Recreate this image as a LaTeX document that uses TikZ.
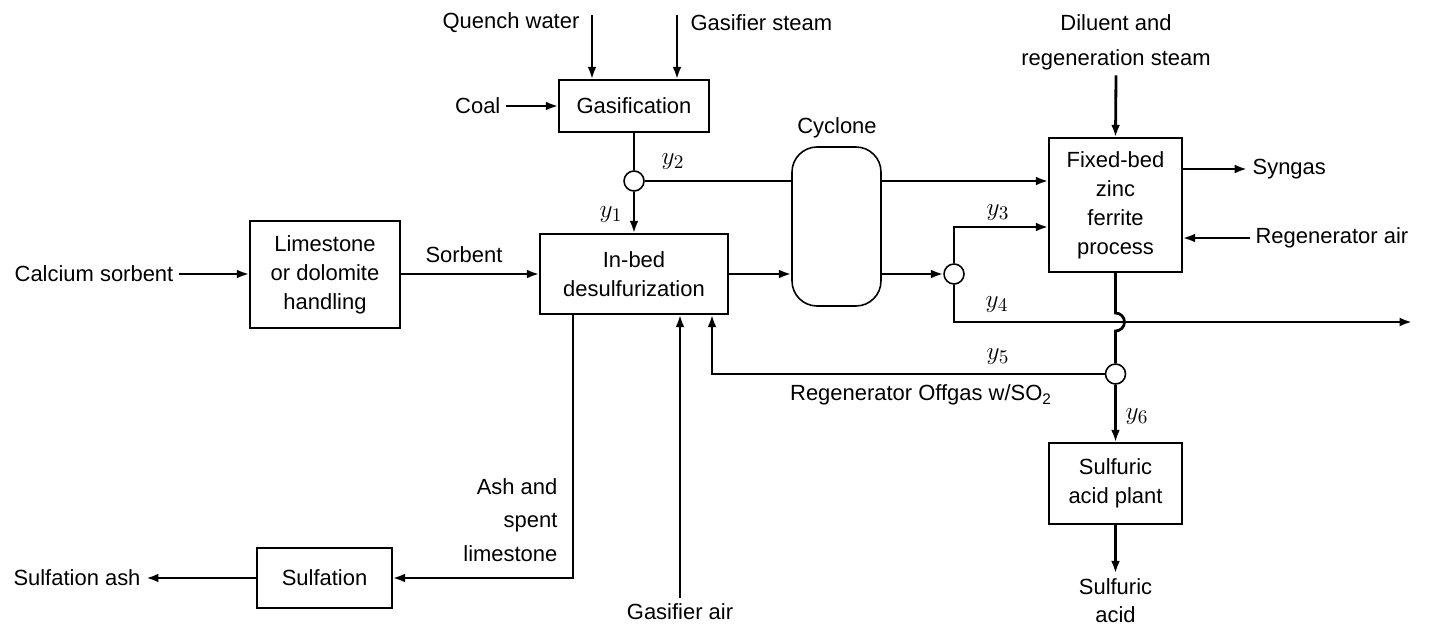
\documentclass[tikz,border=0pt]{standalone}
\usepackage{fontspec}
\setmainfont{Liberation Sans}
\usetikzlibrary{arrows.meta,positioning,calc}

\begin{document}
\begin{tikzpicture}[x=0.02cm, y=-0.02cm,
  font=\fontsize{12.5}{16.5}\selectfont,
  unit/.style={draw, line width=0.9pt, align=center, inner sep=2pt},
  splitter/.style={draw, circle, line width=0.9pt, minimum size=0.4cm, inner sep=0pt},
  lbl/.style={inner sep=3pt, align=center},
  ylbl/.style={inner sep=0pt, font=\fontsize{15}{17}\selectfont},
  flow/.style={line width=1.6pt, -{Latex[length=7pt,width=5pt]}},
  pipe/.style={line width=1.6pt}
]
  \useasboundingbox (0,0) rectangle (1429,628);

  % units
  \node[unit, minimum width=3cm, minimum height=1.04cm]    (gas)   at (634,106)   {Gasification};
  \node[unit, minimum width=3.76cm, minimum height=1.6cm]  (inbed) at (634,274)   {In-bed\\desulfurization};
  \node[unit, minimum width=3cm, minimum height=2.14cm]    (lime)  at (325,274.5) {Limestone\\or dolomite\\handling};
  \node[unit, minimum width=2.7cm, minimum height=1.2cm]   (sulf)  at (324.5,578) {Sulfation};
  \node[unit, minimum width=2.66cm, minimum height=2.68cm] (fzf)   at (1115.5,205) {Fixed-bed\\zinc\\ferrite\\process};
  \node[unit, minimum width=2.66cm, minimum height=1.62cm] (sap)   at (1115.5,483.5) {Sulfuric\\acid plant};
  \node[draw, line width=0.9pt, rounded corners=0.5cm,
        minimum width=1.78cm, minimum height=3.18cm]      (cyc)   at (836.5,226.5) {};
  \node[lbl] (cyclbl) at (837,128) {Cyclone};

  % splitters
  \node[splitter] (sp1) at (634,181) {};
  \node[splitter] (sp3) at (954,274) {};
  \node[splitter] (sp5) at (1115.5,374) {};

  % feeds and products
  \node[lbl, anchor=east] (qw)    at (585,23)  {Quench water};
  \node[lbl, anchor=west] (gst)   at (685,23)  {Gasifier steam};
  \node[lbl, anchor=east] (coal)  at (506,106) {Coal};
  \node[lbl] (casorb) at (94,274)  {Calcium sorbent};
  \node[lbl] (sorb)   at (464,255) {Sorbent};
  \node[lbl, font=\fontsize{12.5}{20}\selectfont] (dil) at (1116,42) {Diluent and\\regeneration steam};
  \node[lbl, anchor=west] (syn)   at (1247,169) {Syngas};
  \node[lbl, anchor=west] (rair)  at (1250,238) {Regenerator air};
  \node[lbl] (gair)   at (680,612) {Gasifier air};
  \node[lbl, align=right, anchor=east, font=\fontsize{12.5}{19}\selectfont] (ash) at (563,520) {Ash and\\spent\\limestone};
  \node[lbl] (sash)   at (77,578)  {Sulfation ash};
  \node[lbl, font=\fontsize{12.5}{16}\selectfont] (sacid) at (1115.5,601) {Sulfuric\\acid};
  \node[lbl] (offgas) at (921,395) {Regenerator Offgas w/SO\textsubscript{2}};

  % stream labels
  \node[ylbl] (ly1) at (611,215) {$y_1$};
  \node[ylbl] (ly2) at (673,162) {$y_2$};
  \node[ylbl] (ly3) at (998,213) {$y_3$};
  \node[ylbl] (ly4) at (997,305) {$y_4$};
  \node[ylbl] (ly5) at (998,357) {$y_5$};
  \node[ylbl] (ly6) at (1137,417) {$y_6$};

  \coordinate (qin)   at (592,15);
  \coordinate (sin)   at (677,15);
  \coordinate (ashx)  at (573,0);
  \coordinate (offx)  at (712,0);
  \coordinate (y4end) at (1412,322);

  % streams
  \draw[flow] (qin) -- (qin |- gas.north);
  \draw[flow] (sin) -- (sin |- gas.north);
  \draw[flow] (coal.east) -- (gas.west);
  \draw[pipe] (gas.south) -- (sp1.north);
  \draw[flow] (sp1.south) -- (inbed.north);
  \draw[pipe] (sp1.east) -- (sp1 -| cyc.west);
  \draw[flow] (sp1 -| cyc.east) -- (sp1 -| fzf.west);
  \draw[flow] (casorb.east) -- (casorb.east -| lime.west);
  \draw[flow] (lime.east |- inbed) -- (inbed.west);
  \draw[flow] (inbed.east) -- (inbed.east -| cyc.west);
  \draw[flow] (sp3 -| cyc.east) -- (sp3.west);
  \draw[flow] (sp3.north) |- ($(fzf.west)+(0,22)$);
  \draw[flow] (sp3.south) |- (y4end);
  \draw[flow] (dil.south) -- (fzf.north);
  \draw[flow] ($(fzf.east)+(0,-36)$) -- (syn.west);
  \draw[flow] (rair.west) -- ($(fzf.east)+(0,33)$);
  \draw[pipe] (fzf.south) -- ($(fzf.south |- y4end)+(0,-9)$)
    arc[start angle=90, end angle=-90, radius=0.18cm] -- (sp5.north);
  \draw[flow] (sp5.west) -| (inbed.south -| offx);
  \draw[flow] (sp5.south) -- (sap.north);
  \draw[flow] (sap.south) -- (sacid.north);
  \draw[flow] (gair.north) -- (gair.north |- inbed.south);
  \draw[flow] (inbed.south -| ashx) |- (sulf.east);
  \draw[flow] (sulf.west) -- (sash.east);
\end{tikzpicture}
\end{document}
